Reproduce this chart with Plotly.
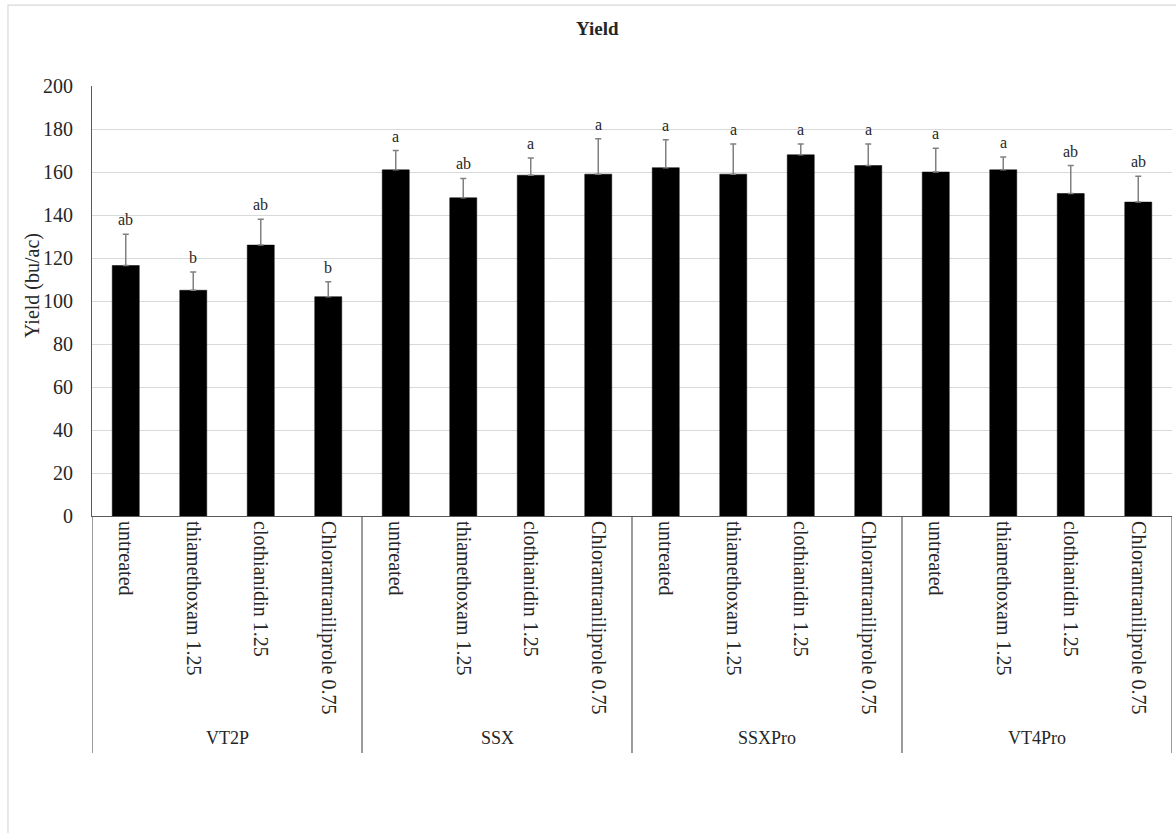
import plotly.graph_objects as go

groups = ["VT2P", "SSX", "SSXPro", "VT4Pro"]
treatments = ["untreated", "thiamethoxam 1.25", "clothianidin 1.25", "Chlorantraniliprole 0.75"]

yield_vals = [116.5, 105, 126, 102,
              161, 148, 158.5, 159,
              162, 159, 168, 163,
              160, 161, 150, 146]
err_vals = [14.5, 8.5, 12, 7,
            9, 9, 8, 16.5,
            13, 14, 5, 10,
            11, 6, 13, 12]
letters = ["ab", "b", "ab", "b",
           "a", "ab", "a", "a",
           "a", "a", "a", "a",
           "a", "a", "ab", "ab"]

y_ticks = [0, 20, 40, 60, 80, 100, 120, 140, 160, 180, 200]

n = len(yield_vals)
xs = list(range(n))
tick_text = [treatments[i % 4] for i in xs]
font_fam = "Liberation Serif"
txt_col = "#262626"

fig = go.Figure()
fig.add_trace(go.Bar(
    x=xs, y=yield_vals, width=0.4,
    marker=dict(color="black", line=dict(color="black", width=0.5)),
    error_y=dict(type="data", symmetric=False, array=err_vals,
                 arrayminus=[0] * n, color="#808080", thickness=1.5, width=3),
    showlegend=False, hoverinfo="skip",
))

shapes = []
# outer chart border
shapes.append(dict(type="rect", xref="paper", yref="paper",
                   x0=-0.0778, x1=1.01, y0=-0.76, y1=1.188,
                   line=dict(color="#d9d9d9", width=1.2), layer="below"))
# group dividers
for k in range(len(groups) + 1):
    xv = k * 4 - 0.5
    shapes.append(dict(type="line", xref="x", yref="paper",
                       x0=xv, x1=xv, y0=0, y1=-0.551,
                       line=dict(color="#595959", width=1.2)))

annotations = []
for i in xs:
    annotations.append(dict(x=i, xref="x", y=yield_vals[i] + err_vals[i], yref="y",
                            text=letters[i], showarrow=False, yanchor="bottom", yshift=4,
                            font=dict(family=font_fam, size=16, color=txt_col)))
for k, g in enumerate(groups):
    annotations.append(dict(x=k * 4 + 1.5, xref="x", y=-0.516, yref="paper",
                            text=g, showarrow=False, yanchor="middle",
                            font=dict(family=font_fam, size=18, color=txt_col)))
annotations.append(dict(x=(597 - 92) / 1080, xref="paper", y=(516 - 28) / 430, yref="paper",
                        text="<b>Yield</b>", showarrow=False, yanchor="middle",
                        font=dict(family=font_fam, size=19, color=txt_col)))
annotations.append(dict(x=(32 - 92) / 1080, xref="paper", y=(516 - 286) / 430, yref="paper",
                        text="Yield (bu/ac)", showarrow=False, textangle=-90,
                        xanchor="center", yanchor="middle",
                        font=dict(family=font_fam, size=20, color=txt_col)))

fig.update_layout(
    width=1176, height=833,
    margin=dict(l=92, r=4, t=86, b=317),
    paper_bgcolor="white", plot_bgcolor="white",
    shapes=shapes, annotations=annotations,
    xaxis=dict(range=[-0.5, n - 0.5], tickmode="array", tickvals=xs, ticktext=tick_text,
               tickangle=90, showgrid=False, zeroline=False,
               showline=True, linecolor="#595959", linewidth=1.2,
               ticks="", tickfont=dict(family=font_fam, size=20, color=txt_col)),
    yaxis=dict(range=[0, 200], tickmode="array", tickvals=y_ticks,
               showgrid=True, gridcolor="#d9d9d9", gridwidth=1.2,
               zeroline=False, showline=True, linecolor="#595959", linewidth=1.2,
               ticks="", ticklabelstandoff=14,
               tickfont=dict(family=font_fam, size=20, color=txt_col)),
    bargap=0.6,
)

fig.write_html("out.html")
